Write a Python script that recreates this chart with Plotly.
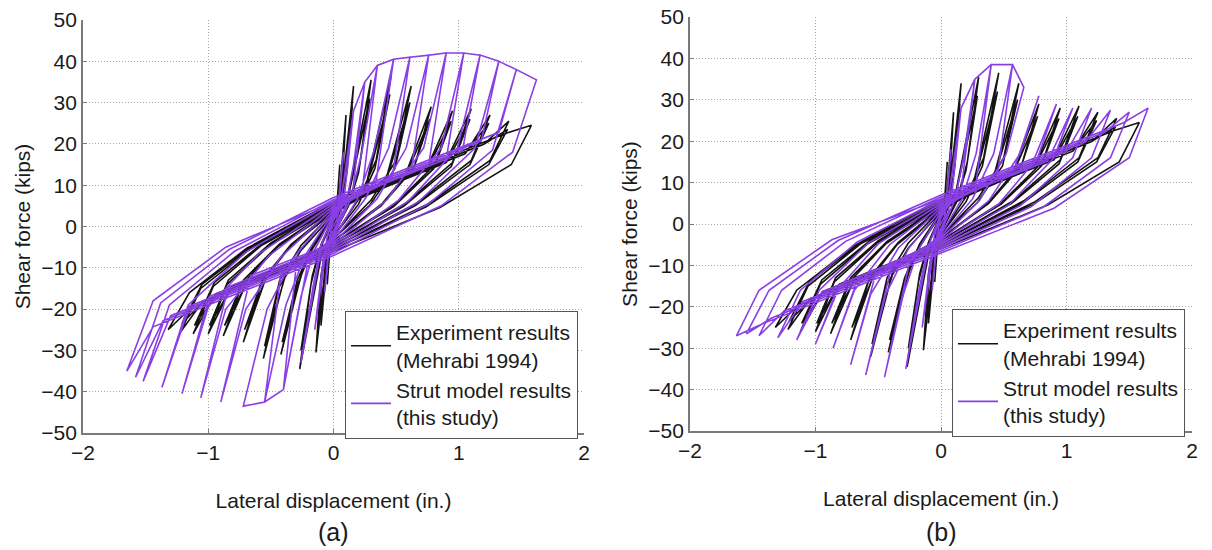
import plotly.graph_objects as go

# Cyclic shear-force / lateral-displacement loops of the infilled frame.
# Every loop is a list of (displacement [in.], shear force [kips]) vertices;
# consecutive loops are joined into one continuous load path.

EXPERIMENT_LOOPS = [
    [(0, 0), (0.02, 2), (0.05, 15), (0.03, 6), (0.02, 1.4), (0, -0.5), (-0.02, -2), (-0.05, -14), (-0.03, -5), (-0.02, -0.8)],
    [(0, 1), (0.04, 5), (0.10, 27), (0.07, 11), (0.04, 4.2), (0, -1), (-0.04, -5), (-0.10, -24), (-0.07, -10), (-0.04, -3.6)],
    [(0, 1.5), (0.06, 6.5), (0.16, 34), (0.11, 14), (0.07, 5.8), (0, -1.5), (-0.05, -6.5), (-0.14, -30.5), (-0.10, -12), (-0.06, -4.6)],
    [(0, 1.5), (0.06, 6), (0.15, 29), (0.10, 12), (0.06, 4.6), (0, -1.5), (-0.05, -6), (-0.13, -27), (-0.09, -11), (-0.05, -4.0)],
    [(0, 2), (0.12, 8), (0.30, 35.5), (0.21, 15), (0.13, 6.2), (0, -2), (-0.10, -7.5), (-0.27, -34.5), (-0.18, -14), (-0.11, -5.6)],
    [(0, 2), (0.12, 7.5), (0.29, 31), (0.20, 13), (0.12, 5.0), (0, -2), (-0.10, -7), (-0.26, -30), (-0.17, -12), (-0.10, -4.4)],
    [(0, 2.5), (0.26, 10), (0.46, 36.5), (0.34, 16), (0.20, 6.6), (0, -2.5), (-0.24, -9.5), (-0.42, -31), (-0.30, -15), (-0.18, -6)],
    [(0, 2.5), (0.26, 9.5), (0.45, 32), (0.33, 14), (0.20, 5.4), (0, -2.5), (-0.23, -9), (-0.41, -28), (-0.29, -13), (-0.17, -4.8)],
    [(0, 3), (0.42, 11.5), (0.62, 34), (0.50, 16), (0.30, 6.4), (0, -3), (-0.38, -11), (-0.56, -32), (-0.44, -15), (-0.26, -5.8)],
    [(0, 3), (0.42, 11), (0.61, 30), (0.49, 14), (0.29, 5.2), (0, -3), (-0.37, -10.5), (-0.55, -29), (-0.43, -13), (-0.26, -4.6)],
    [(0, 3.5), (0.58, 13), (0.78, 29), (0.65, 15), (0.39, 5.6), (0, -3.5), (-0.54, -12.5), (-0.72, -28), (-0.58, -14), (-0.35, -5)],
    [(0, 3.5), (0.58, 12.5), (0.77, 26), (0.64, 14), (0.38, 5.0), (0, -3.5), (-0.53, -12), (-0.71, -25), (-0.57, -13), (-0.34, -4.4)],
    [(0, 4), (0.75, 14.5), (0.95, 28), (0.81, 15), (0.49, 5.4), (0, -4), (-0.70, -14), (-0.88, -26.5), (-0.73, -14), (-0.44, -4.8)],
    [(0, 4), (0.75, 14), (0.94, 25.5), (0.80, 14), (0.48, 4.8), (0, -4), (-0.69, -13.5), (-0.87, -24), (-0.72, -13), (-0.43, -4.2)],
    [(0, 4.5), (0.90, 16), (1.10, 28.5), (0.95, 15.5), (0.57, 5.5), (0, -4.5), (-0.82, -15), (-1.00, -26), (-0.85, -14), (-0.51, -4.6)],
    [(0, 4.5), (0.90, 15.5), (1.09, 26), (0.94, 14.5), (0.56, 4.9), (0, -4.5), (-0.81, -14.5), (-0.99, -24), (-0.84, -13), (-0.50, -4.0)],
    [(0, 5), (1.05, 17.6), (1.25, 27), (1.10, 16), (0.66, 5.6), (0, -5), (-0.94, -16.3), (-1.12, -26), (-0.96, -14.5), (-0.58, -4.7)],
    [(0, 5), (1.05, 17.6), (1.24, 25), (1.09, 15), (0.65, 5.0), (0, -5), (-0.93, -16.2), (-1.11, -24), (-0.95, -13.5), (-0.57, -4.1)],
    [(0, 5.5), (1.20, 19.9), (1.40, 25.5), (1.25, 16), (0.75, 5.4), (0, -5.5), (-1.04, -18), (-1.22, -25.5), (-1.06, -15), (-0.64, -4.8)],
    [(0, 5.5), (1.20, 19.9), (1.39, 23.5), (1.24, 15), (0.74, 4.8), (0, -5.5), (-1.03, -17.9), (-1.21, -23.5), (-1.05, -14), (-0.63, -4.2)],
    [(0, 6), (1.38, 22.6), (1.58, 24.5), (1.42, 15), (0.85, 4.6), (0, -6), (-1.14, -19.7), (-1.32, -25), (-1.15, -16), (-0.69, -5.2), (0, 5)],
]

MODEL_A_LOOPS = [
    [(0, 0), (0.03, 2), (0.08, 18), (0.05, 7), (0.03, 0.8), (0, -1), (-0.03, -2), (-0.07, -16), (-0.04, -7), (-0.02, -0.8)],
    [(0, 1.5), (0.05, 4), (0.16, 28), (0.10, 11), (0.06, 3.0), (0, -1.5), (-0.05, -4), (-0.15, -25), (-0.09, -10), (-0.05, -2.4)],
    [(0, 2), (0.08, 5.5), (0.16, 28), (0.25, 35), (0.16, 15), (0.10, 5.2), (0, -2), (-0.10, -5.5), (-0.26, -33), (-0.16, -14), (-0.10, -4.6)],
    [(0, 2.5), (0.15, 7.5), (0.25, 35), (0.35, 39), (0.22, 17), (0.13, 6.2), (0, -2.5), (-0.20, -8), (-0.40, -39.5), (-0.26, -17), (-0.16, -6.2)],
    [(0, 3), (0.23, 9), (0.35, 39), (0.48, 40.5), (0.32, 18), (0.19, 6.6), (0, -3), (-0.30, -10), (-0.40, -39.5), (-0.55, -42.5), (-0.38, -19), (-0.23, -7.2)],
    [(0, 3.5), (0.34, 11), (0.48, 40.5), (0.61, 41), (0.44, 19), (0.26, 7.0), (0, -3.5), (-0.42, -11.5), (-0.55, -42.5), (-0.72, -43.5), (-0.53, -20), (-0.32, -7.6)],
    [(0, 4), (0.47, 12), (0.61, 41), (0.76, 41.5), (0.58, 19), (0.35, 6.8), (0, -4), (-0.66, -11.9), (-0.90, -42.5), (-0.70, -20), (-0.42, -7.4)],
    [(0, 4.5), (0.62, 13.5), (0.76, 41.5), (0.90, 42), (0.72, 19), (0.43, 6.6), (0, -4.5), (-0.84, -14.6), (-1.06, -41.5), (-0.86, -20), (-0.52, -7.2)],
    [(0, 5), (0.76, 15), (0.90, 42), (1.04, 42), (0.86, 19), (0.52, 6.4), (0, -5), (-0.99, -16.9), (-1.21, -40.5), (-1.00, -19.5), (-0.60, -6.7)],
    [(0, 5.5), (0.90, 16.3), (1.04, 42), (1.17, 41.5), (0.99, 19), (0.60, 6.2), (0, -5.5), (-1.15, -19.3), (-1.37, -39), (-1.16, -19), (-0.70, -6.2)],
    [(0, 6), (1.03, 18.4), (1.17, 41.5), (1.32, 40), (1.13, 19), (0.68, 6.0), (0, -6), (-1.30, -21.6), (-1.52, -37.5), (-1.31, -19), (-0.79, -6.0)],
    [(0, 6.5), (1.18, 20.7), (1.32, 40), (1.46, 38), (1.27, 18.5), (0.76, 5.5), (0, -6.5), (-1.36, -22.8), (-1.58, -36.5), (-1.38, -18.5), (-0.83, -5.5)],
    [(0, 7), (1.32, 22.8), (1.46, 38), (1.62, 35.5), (1.43, 18), (0.86, 5.0), (0, -7), (-1.44, -24.3), (-1.65, -35), (-1.44, -18), (-0.86, -5.0), (0, 6)],
]

MODEL_B_LOOPS = [
    [(0, 0), (0.03, 2), (0.08, 18), (0.05, 7), (0.03, 0.8), (0, -1), (-0.03, -2), (-0.07, -16), (-0.04, -7), (-0.02, -0.8)],
    [(0, 1.5), (0.05, 4), (0.16, 28), (0.10, 11), (0.06, 3.0), (0, -1.5), (-0.05, -4), (-0.15, -25), (-0.09, -10), (-0.05, -2.4)],
    [(0, 2), (0.08, 5.5), (0.16, 28), (0.27, 35), (0.18, 16), (0.11, 5.8), (0, -2), (-0.10, -6), (-0.28, -35), (-0.17, -15), (-0.10, -5.2)],
    [(0, 2.5), (0.16, 8), (0.27, 35), (0.40, 38.5), (0.28, 17), (0.17, 6.2), (0, -2.5), (-0.25, -9), (-0.45, -37), (-0.30, -17), (-0.18, -6.2)],
    [(0, 3), (0.28, 10), (0.40, 38.5), (0.57, 38.5), (0.42, 17), (0.25, 6.0), (0, -3), (-0.40, -11), (-0.60, -36.5), (-0.44, -17), (-0.26, -6.0)],
    [(0, 3.5), (0.45, 12), (0.57, 38.5), (0.66, 33), (0.52, 17), (0.31, 5.8), (0, -3.5), (-0.52, -12), (-0.72, -34), (-0.56, -17), (-0.34, -5.8)],
    [(0, 4), (0.58, 13), (0.78, 31), (0.63, 17), (0.38, 5.6), (0, -4), (-0.66, -13), (-0.86, -30), (-0.69, -16), (-0.41, -5.0)],
    [(0, 4.5), (0.72, 14), (0.92, 29), (0.77, 16), (0.46, 4.8), (0, -4.5), (-0.80, -14.5), (-1.00, -29), (-0.83, -16), (-0.50, -4.8)],
    [(0, 5), (0.85, 15.2), (1.05, 28), (0.90, 16), (0.54, 4.6), (0, -5), (-0.95, -16.4), (-1.15, -28), (-0.97, -16), (-0.58, -4.6)],
    [(0, 5.5), (1.00, 17.5), (1.20, 28), (1.05, 16), (0.63, 4.4), (0, -5.5), (-1.10, -18.7), (-1.30, -27.5), (-1.12, -16), (-0.67, -4.4)],
    [(0, 6), (1.15, 19.8), (1.35, 27.5), (1.20, 16), (0.72, 4.2), (0, -6), (-1.25, -21), (-1.45, -27), (-1.27, -16), (-0.76, -4.2)],
    [(0, 6.5), (1.30, 22.1), (1.50, 27), (1.35, 16), (0.81, 4.0), (0, -6.5), (-1.35, -22.7), (-1.55, -26.5), (-1.37, -16), (-0.82, -4.0)],
    [(0, 7), (1.45, 24.4), (1.65, 28), (1.50, 16), (0.90, 3.8), (0, -7), (-1.43, -24.2), (-1.63, -27), (-1.45, -16), (-0.87, -3.8), (0, 6)],
]

X_TICKS = [-2, -1, 0, 1, 2]
Y_TICKS = [-50, -40, -30, -20, -10, 0, 10, 20, 30, 40, 50]
X_TITLE = "Lateral displacement (in.)"
Y_TITLE = "Shear force (kips)"
PANEL_LABELS = ["(a)", "(b)"]
SERIES_NAMES = ["Experiment results<br>(Mehrabi 1994)", "Strut model results<br>(this study)"]

FONT = "Liberation Sans, Arial, sans-serif"
TEXT_COLOR = "#1a1a1a"
EXP_COLOR = "#141414"
MODEL_COLOR = "#8a3fe6"
W, H = 1212, 550


def load_path(loops):
    xs, ys = [], []
    for loop in loops:
        for x, y in loop:
            xs.append(x)
            ys.append(y)
    return xs, ys


fig = go.Figure()

panels = [
    ("x", "y", "legend", MODEL_A_LOOPS),
    ("x2", "y2", "legend2", MODEL_B_LOOPS),
]
for xa, ya, leg, model_loops in panels:
    ex, ey = load_path(EXPERIMENT_LOOPS)
    fig.add_trace(go.Scatter(
        x=ex, y=ey, mode="lines", name=SERIES_NAMES[0], xaxis=xa, yaxis=ya, legend=leg,
        line=dict(color=EXP_COLOR, width=1.6), hoverinfo="skip",
    ))
    mx, my = load_path(model_loops)
    fig.add_trace(go.Scatter(
        x=mx, y=my, mode="lines", name=SERIES_NAMES[1], xaxis=xa, yaxis=ya, legend=leg,
        line=dict(color=MODEL_COLOR, width=1.6), hoverinfo="skip",
    ))


def px_x(p):
    return p / W


def px_y(p):
    return 1 - p / H


axis_common = dict(
    showline=True, linecolor="#7a7a7a", linewidth=1.8,
    showgrid=True, gridcolor="#a8a8a8", griddash="1px,2px", gridwidth=1,
    zeroline=False, ticks="inside", ticklen=4, tickcolor="#7a7a7a",
    tickfont=dict(family=FONT, size=21, color=TEXT_COLOR),
    mirror=False, automargin=False,
)
legend_common = dict(
    xanchor="left", yanchor="top", bgcolor="white",
    bordercolor="#555555", borderwidth=1,
    font=dict(family=FONT, size=21, color=TEXT_COLOR),
    tracegroupgap=0, itemwidth=40,
)

fig.update_layout(
    template="none",
    width=W, height=H, margin=dict(l=0, r=0, t=0, b=0, autoexpand=False),
    paper_bgcolor="white", plot_bgcolor="white",
    font=dict(family=FONT, color=TEXT_COLOR),
    xaxis=dict(domain=[px_x(83), px_x(584)], range=[-2, 2], tickvals=X_TICKS, anchor="y",
               title=dict(text=X_TITLE, font=dict(size=21), standoff=30), **axis_common),
    yaxis=dict(domain=[px_y(433), px_y(20)], range=[-50, 50], tickvals=Y_TICKS, anchor="x",
               title=dict(text=Y_TITLE, font=dict(size=21), standoff=5), **axis_common),
    xaxis2=dict(domain=[px_x(690), px_x(1192)], range=[-2, 2], tickvals=X_TICKS, anchor="y2",
                title=dict(text=X_TITLE, font=dict(size=21), standoff=30), **axis_common),
    yaxis2=dict(domain=[px_y(431), px_y(17)], range=[-50, 50], tickvals=Y_TICKS, anchor="x2",
                title=dict(text=Y_TITLE, font=dict(size=21), standoff=5), **axis_common),
    legend=dict(x=px_x(345), y=px_y(311), **legend_common),
    legend2=dict(x=px_x(952), y=px_y(309), **legend_common),
    showlegend=True,
)

for label, xref in zip(PANEL_LABELS, ["x domain", "x2 domain"]):
    fig.add_annotation(text=label, x=0.5, xref=xref, y=px_y(532), yref="paper",
                       showarrow=False, xanchor="center", yanchor="middle",
                       font=dict(family=FONT, size=25, color=TEXT_COLOR))

fig.write_html("out.html")
